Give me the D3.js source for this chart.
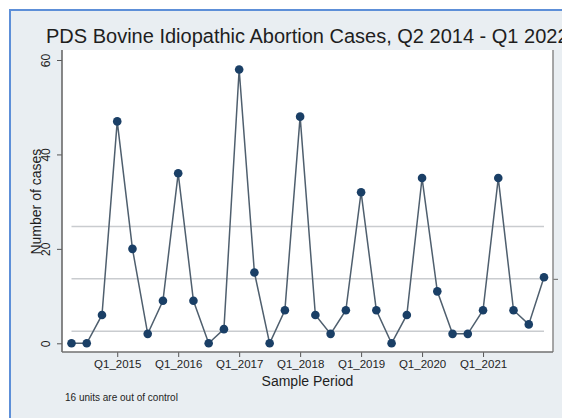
<!DOCTYPE html>
<html>
<head>
<meta charset="utf-8">
<script src="https://cdn.jsdelivr.net/npm/d3@7"></script>
<style>
  html, body { margin: 0; padding: 0; background: #ffffff; }
  svg { display: block; font-family: "Liberation Sans", Arial, sans-serif; }
</style>
</head>
<body>
<svg id="chart" width="562" height="418"></svg>
<script>
// ---- data ----
const quarters = [
  "Q2_2014","Q3_2014","Q4_2014",
  "Q1_2015","Q2_2015","Q3_2015","Q4_2015",
  "Q1_2016","Q2_2016","Q3_2016","Q4_2016",
  "Q1_2017","Q2_2017","Q3_2017","Q4_2017",
  "Q1_2018","Q2_2018","Q3_2018","Q4_2018",
  "Q1_2019","Q2_2019","Q3_2019","Q4_2019",
  "Q1_2020","Q2_2020","Q3_2020","Q4_2020",
  "Q1_2021","Q2_2021","Q3_2021","Q4_2021",
  "Q1_2022"
];
const cases = [0, 0, 6, 47, 20, 2, 9, 36, 9, 0, 3, 58, 15, 0, 7, 48, 6, 2, 7, 32, 7, 0, 6, 35, 11, 2, 2, 7, 35, 7, 4, 14];
const xTickLabels = ["Q1_2015","Q1_2016","Q1_2017","Q1_2018","Q1_2019","Q1_2020","Q1_2021"];
const yTicks = [0, 20, 40, 60];
const titleText = "PDS Bovine Idiopathic Abortion Cases, Q2 2014 - Q1 2022";
const noteText = "16 units are out of control";

// c-chart limits derived from the data
const centerLine = d3.mean(cases);
const ucl = centerLine + 3 * Math.sqrt(centerLine);
const lcl = Math.max(0, centerLine - 3 * Math.sqrt(centerLine));

const svg = d3.select("#chart");
const W = 562, H = 418;

// outer frame
svg.append("rect").attr("x", 10).attr("y", 10).attr("width", W + 20).attr("height", H + 20)
  .attr("fill", "#e9eef2").attr("stroke", "#5d8fd8").attr("stroke-width", 2);

const plot = { left: 62, right: 553, top: 50, bottom: 352 };

svg.append("rect").attr("x", plot.left).attr("y", plot.top)
  .attr("width", plot.right - plot.left).attr("height", plot.bottom - plot.top)
  .attr("fill", "#ffffff");

const x = d3.scalePoint().domain(quarters).range([71.5, 544]);
const y = d3.scaleLinear().domain([0, 60]).range([343.3, 60]);

// title
svg.append("text").attr("x", 46).attr("y", 43).attr("font-size", 20).attr("fill", "#1e1e1e")
  .text(titleText);

// control lines
[ucl, centerLine, lcl].forEach(v => {
  svg.append("line")
    .attr("x1", x(quarters[0])).attr("x2", x(quarters[quarters.length - 1]))
    .attr("y1", y(v)).attr("y2", y(v))
    .attr("stroke", "#c9cccf").attr("stroke-width", 1.5);
});

// left axis
const yAxis = d3.axisLeft(y).tickValues(yTicks).tickSize(5).tickPadding(3);
const gy = svg.append("g").attr("transform", `translate(${plot.left},0)`).call(yAxis);
gy.select(".domain").remove();
gy.selectAll(".tick line").attr("stroke", "#555");
gy.selectAll(".tick text").attr("font-size", 12).attr("fill", "#1e1e1e")
  .attr("font-family", "'Liberation Sans', Arial, sans-serif")
  .attr("text-anchor", "middle").attr("dy", null).attr("x", null)
  .attr("dominant-baseline", "central")
  .attr("transform", "translate(-16,0) rotate(-90)");
svg.append("line").attr("x1", plot.left).attr("x2", plot.left)
  .attr("y1", plot.top).attr("y2", plot.bottom).attr("stroke", "#606060").attr("stroke-width", 1.5);

// right axis
const yRight = d3.axisRight(y).tickValues([centerLine]).tickSize(5).tickFormat("");
const gr = svg.append("g").attr("transform", `translate(${plot.right},0)`).call(yRight);
gr.select(".domain").remove();
gr.selectAll(".tick line").attr("stroke", "#666");
svg.append("line").attr("x1", plot.right).attr("x2", plot.right)
  .attr("y1", plot.top).attr("y2", plot.bottom).attr("stroke", "#8a8a8a").attr("stroke-width", 1.5);

// bottom axis
const xAxis = d3.axisBottom(x).tickValues(xTickLabels).tickSize(5).tickPadding(3);
const gx = svg.append("g").attr("transform", `translate(0,${plot.bottom})`).call(xAxis);
gx.select(".domain").remove();
gx.selectAll(".tick line").attr("stroke", "#555");
gx.selectAll(".tick text").attr("font-size", 11.5).attr("fill", "#1e1e1e")
  .attr("font-family", "'Liberation Sans', Arial, sans-serif");
svg.append("line").attr("x1", plot.left).attr("x2", plot.right)
  .attr("y1", plot.bottom).attr("y2", plot.bottom).attr("stroke", "#707070").attr("stroke-width", 1.5);

// axis titles
svg.append("text").attr("transform", `translate(41,${(y(0) + y(60)) / 2}) rotate(-90)`)
  .attr("text-anchor", "middle").attr("font-size", 14).attr("fill", "#1e1e1e")
  .text("Number of cases");
svg.append("text").attr("x", (plot.left + plot.right) / 2).attr("y", 386)
  .attr("text-anchor", "middle").attr("font-size", 14).attr("fill", "#1e1e1e")
  .text("Sample Period");
svg.append("text").attr("x", 65).attr("y", 401).attr("font-size", 10).attr("fill", "#1e1e1e")
  .text(noteText);

// series
const line = d3.line().x((d, i) => x(quarters[i])).y(d => y(d));
svg.append("path").datum(cases).attr("d", line)
  .attr("fill", "none").attr("stroke", "#4f5f6e").attr("stroke-width", 1.5);
svg.selectAll("circle.pt").data(cases).join("circle").attr("class", "pt")
  .attr("cx", (d, i) => x(quarters[i])).attr("cy", d => y(d)).attr("r", 4.3)
  .attr("fill", "#1a3f66");
</script>
</body>
</html>
